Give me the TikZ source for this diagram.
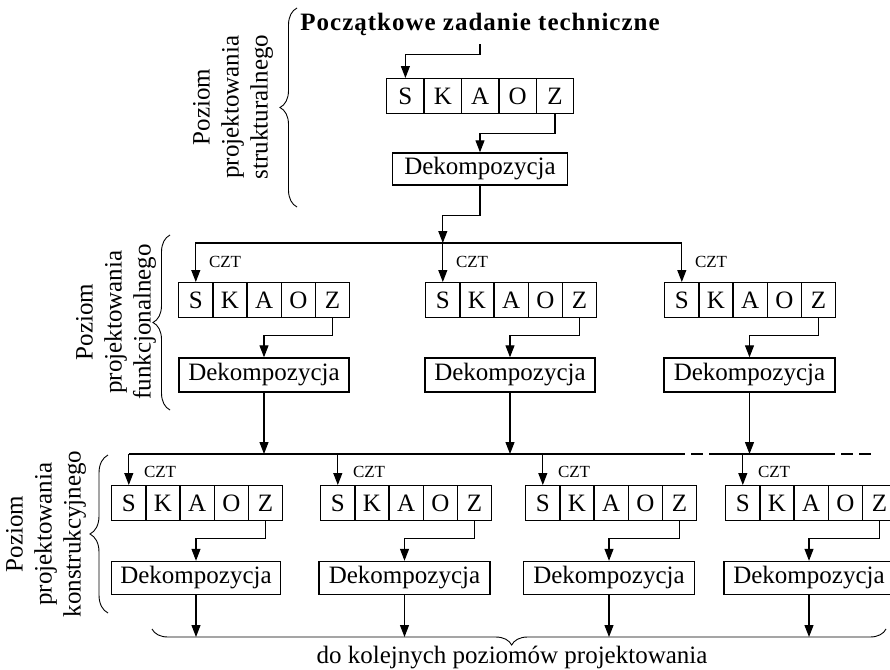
\documentclass[tikz,border=0pt]{standalone}
\usepackage{fontspec}
\setmainfont{Liberation Serif}
\newfontfamily\titlefont[LetterSpace=4]{Liberation Serif}
\usetikzlibrary{arrows.meta,decorations.pathreplacing,calc}

% one row of S-K-A-O-Z cells: name, left x, top y, cell width
\newcommand\skaozrow[4]{%
  \foreach \L [count=\i from 0] in {S,K,A,O,Z}{%
    \node[cell, minimum width=#4pt] (#1-\L) at ({#2+\i*#4},#3) {\L};}}

\begin{document}
\begin{tikzpicture}[x=1pt,y=-1pt,
  txt/.style={font=\fontsize{25}{29}\selectfont},
  cell/.style={txt, draw, line width=1.4pt, minimum height=35pt, inner sep=0pt, anchor=north west},
  dek/.style={txt, draw, line width=1.4pt, minimum height=33pt, inner sep=0pt},
  conn/.style={line width=1.1pt},
  arr/.style={conn, -{Triangle[length=12pt,width=9pt]}},
  czt/.style={font=\fontsize{17}{20}\selectfont, anchor=west, inner sep=0pt},
  lvl/.style={txt, rotate=90, align=center, inner sep=0pt},
  curly/.style={line width=0.9pt, decorate, decoration={brace, amplitude=#1}},
  busdash/.style={conn, dash pattern=on 12pt off 6pt}]
\useasboundingbox (0,0) rectangle (890,669);

% ---- structural level ----
\node[font=\titlefont\bfseries\fontsize{25}{29}\selectfont, inner sep=0pt, anchor=base] (title) at (480,31) {Początkowe zadanie techniczne};
\skaozrow{b0}{386}{78}{37.4}
\node[dek, minimum width=175pt, minimum height=32pt] (d0) at (480,169) {Dekompozycja};

\draw[arr] ([yshift=-8pt]title.south) -- ++(0,-10pt) -| (b0-S.north);
\draw[arr] (b0-Z.south) -- ++(0,-19pt) -| (d0.north);

% ---- functional level ----
\skaozrow{b1}{178}{282}{34.2}
\skaozrow{b2}{425}{282}{34.2}
\skaozrow{b3}{664}{282}{34.2}
\node[dek, minimum width=170pt, minimum height=34pt] (d1) at (264,375) {Dekompozycja};
\node[dek, minimum width=170pt, minimum height=34pt] (d2) at (510,375) {Dekompozycja};
\node[dek, minimum width=171pt, minimum height=34pt] (d3) at (749.5,375) {Dekompozycja};

\coordinate (j1) at ([yshift=39pt]b2-S.north);
\draw[arr] (d0.south) -- ++(0,-30pt) -| (j1);
\draw[arr] (j1) -- (b2-S.north);
\draw[arr] (j1) -| (b1-S.north);
\draw[arr] (j1) -| (b3-S.north);
\foreach \b in {b1,b2,b3}
  \node[czt] (\b-czt) at ([xshift=13pt,yshift=20pt]\b-S.north) {CZT};

\draw[arr] (b1-Z.south) -- ++(0,-17pt) -| (d1.north);
\draw[arr] (b2-Z.south) -- ++(0,-17pt) -| (d2.north);
\draw[arr] (b3-Z.south) -- ++(0,-17pt) -| (d3.north);

% ---- construction level ----
\skaozrow{c1}{111}{485}{34.2}
\skaozrow{c2}{320}{485}{34.2}
\skaozrow{c3}{525}{485}{34.2}
\skaozrow{c4}{725}{485}{34.2}
\node[dek, minimum width=169pt] (d4) at (196,578) {Dekompozycja};
\node[dek, minimum width=171pt] (d5) at (404.5,578) {Dekompozycja};
\node[dek, minimum width=171pt] (d6) at (609,578) {Dekompozycja};
\node[dek, minimum width=170pt] (d7) at (809,578) {Dekompozycja};

\coordinate (j2) at ([yshift=31pt]c1-S.north);
\coordinate (e1) at (673,454);
\coordinate (e2) at (717,454);
\coordinate (e3) at (823,454);
\coordinate (e4) at (875,454);
\draw[conn] (j2) -- (e1);
\draw[busdash] (e1) -- (e2);
\draw[conn] (e2) -- (e3);
\draw[busdash] (e3) -- (e4);

\draw[arr] (d1.south) -- (d1.south |- j2);
\draw[arr] (d2.south) -- (d2.south |- j2);
\draw[arr] (d3.south) -- (d3.south |- j2);

\draw[arr] (j2) -- (c1-S.north);
\foreach \c in {c2,c3,c4}
  \draw[arr] (\c-S.north |- j2) -- (\c-S.north);
\foreach \c in {c1,c2,c3,c4}
  \node[czt] (\c-czt) at ([xshift=15pt,yshift=13pt]\c-S.north) {CZT};

\draw[arr] (c1-Z.south) -- ++(0,-17pt) -| (d4.north);
\draw[arr] (c2-Z.south) -- ++(0,-17pt) -| (d5.north);
\draw[arr] (c3-Z.south) -- ++(0,-17pt) -| (d6.north);
\draw[arr] (c4-Z.south) -- ++(0,-17pt) -| (d7.north);

% ---- outputs to the next levels ----
\coordinate (bL) at (152,629);
\coordinate (bR) at (886,629);
\coordinate (bb) at (0,637);
\foreach \d in {d4,d5,d6,d7}
  \draw[arr] (\d.south) -- (\d.south |- bb);
\draw[curly=16pt, decoration={mirror, aspect=0.49}] (bL) -- (bR);
\node[txt, anchor=base, inner sep=0pt] (next) at (512,663) {do kolejnych poziomów projektowania};

% ---- level braces and labels ----
\draw[curly=17pt] (297,207) -- (297,8);
\draw[curly=17pt] (170,410) -- (170,235);
\draw[curly=18pt] (108,613) -- (108,455);
\node[lvl] (lv1) at (233,107) {Poziom\\projektowania\\strukturalnego};
\node[lvl] (lv2) at (116,322) {Poziom\\projektowania\\funkcjonalnego};
\node[lvl] (lv3) at (46,534) {Poziom\\projektowania\\konstrukcyjnego};
\end{tikzpicture}
\end{document}
